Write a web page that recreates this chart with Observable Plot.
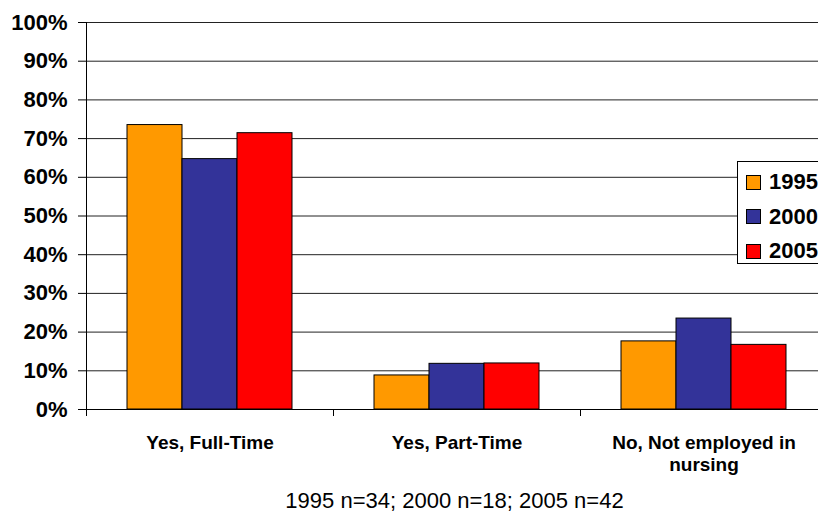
<!DOCTYPE html>
<html>
<head>
<meta charset="utf-8">
<script src="https://cdn.jsdelivr.net/npm/d3@7"></script>
<script src="https://cdn.jsdelivr.net/npm/@observablehq/plot@0.6"></script>
<style>
  html, body { margin: 0; padding: 0; background: #fff; overflow: hidden; }
  body { font-family: "Liberation Sans", Arial, sans-serif; }
  #wrap { position: relative; width: 818px; height: 514px; overflow: hidden; }
  #legend { position: absolute; left: 737px; top: 161px; width: 100px; height: 103px;
            border: 1px solid #000; background: #fff; box-sizing: border-box; }
  .item { position: absolute; left: 8px; height: 20px; display: flex; align-items: center;
          font-weight: bold; font-size: 22px; color: #000; }
  .sw { width: 13px; height: 13px; border: 1px solid #000; margin-right: 8px; }
  #caption { position: absolute; left: 91px; width: 727px; top: 491px; text-align: center;
             font-size: 22px; line-height: 20px; color: #000; white-space: nowrap; }
</style>
</head>
<body>
<div id="wrap"></div>
<script>
const categories = ["Yes, Full-Time", "Yes, Part-Time", "No, Not employed in nursing"];
const categoryLabels = ["Yes, Full-Time", "Yes, Part-Time", "No, Not employed in\nnursing"];
const years = ["1995", "2000", "2005"];
const values1995 = [73.5, 8.8, 17.6];
const values2000 = [64.7, 11.8, 23.5];
const values2005 = [71.4, 11.9, 16.7];
const colors = ["#FF9900", "#333399", "#FF0000"];
const yTicks = d3.range(0, 101, 10);
const captionText = "1995 n=34; 2000 n=18; 2005 n=42";

const series = [values1995, values2000, values2005];
const data = [];
categories.forEach((c, i) => years.forEach((y, j) => data.push({category: c, year: y, value: series[j][i]})));

const marginTop = 22, marginBottom = 76, height = 485;
const plotH = height - marginTop - marginBottom;

const chart = Plot.plot({
  width: 818,
  height,
  marginTop,
  marginBottom,
  marginLeft: 85,
  marginRight: -10,
  style: {fontFamily: "'Liberation Sans', Arial, sans-serif", color: "#000", background: "#fff", overflow: "visible"},
  fx: {domain: categories, padding: 0, label: null},
  x: {domain: years, paddingInner: 0, paddingOuter: 0.74, axis: null},
  y: {domain: [0, 100], label: null},
  color: {domain: years, range: colors},
  marks: [
    Plot.gridY(yTicks, {stroke: "#222", strokeOpacity: 1}),
    Plot.barY(data, {fx: "category", x: "year", y: "value", fill: "year", stroke: "#000", strokeWidth: 1}),
    Plot.ruleY([0], {stroke: "#000", strokeWidth: 1}),
    Plot.frame({anchor: "left", insetTop: plotH, insetBottom: -6, stroke: "#000"}),
    Plot.frame({anchor: "left", facetAnchor: "left", insetBottom: -6, stroke: "#000"}),
    Plot.axisY({ticks: yTicks, tickSize: 8, tickPadding: 11, tickFormat: d => d + "%",
      fontSize: 22, fontWeight: "bold", label: null}),
    Plot.axisFx({anchor: "bottom", tickSize: 0, tickPadding: 24, label: null,
      tickFormat: d => categoryLabels[categories.indexOf(d)],
      fontSize: 19, fontWeight: "bold", lineHeight: 1.16, lineAnchor: "top"})
  ]
});

const wrap = document.getElementById("wrap");
wrap.appendChild(chart);

const legend = document.createElement("div");
legend.id = "legend";
years.forEach((y, j) => {
  const it = document.createElement("div");
  it.className = "item";
  it.style.top = (10 + j * 34.5) + "px";
  const sw = document.createElement("div");
  sw.className = "sw";
  sw.style.background = colors[j];
  it.appendChild(sw);
  it.appendChild(document.createTextNode(y));
  legend.appendChild(it);
});
wrap.appendChild(legend);

const cap = document.createElement("div");
cap.id = "caption";
cap.textContent = captionText;
wrap.appendChild(cap);
</script>
</body>
</html>
